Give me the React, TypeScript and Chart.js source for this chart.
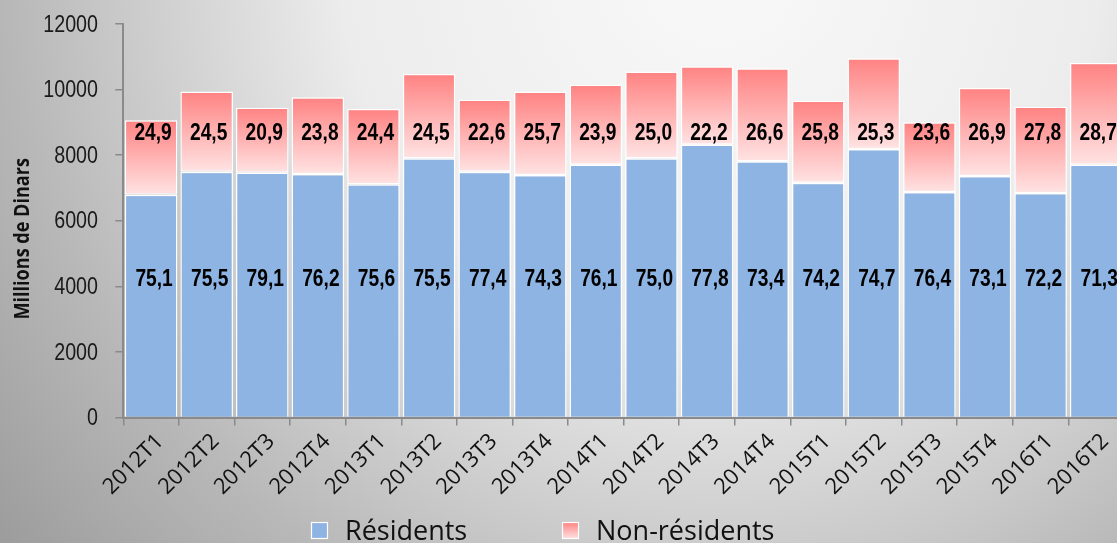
import React, { useEffect, useRef } from "react";
import { Chart, registerables } from "chart.js";

Chart.register(...registerables);

const categories = [
  "2012T1", "2012T2", "2012T3", "2012T4",
  "2013T1", "2013T2", "2013T3", "2013T4",
  "2014T1", "2014T2", "2014T3", "2014T4",
  "2015T1", "2015T2", "2015T3", "2015T4",
  "2016T1", "2016T2",
];

// Millions de Dinars
const residents = [
  6793, 7495, 7465, 7425,
  7108, 7902, 7495, 7394,
  7709, 7902, 8320, 7811,
  7159, 8187, 6874, 7363,
  6844, 7709,
];

const nonResidents = [
  2268, 2443, 1984, 2339,
  2301, 2576, 2198, 2544,
  2442, 2646, 2391, 2839,
  2504, 2768, 2127, 2687,
  2636, 3104,
];

const residentsPct = [
  "75,1", "75,5", "79,1", "76,2",
  "75,6", "75,5", "77,4", "74,3",
  "76,1", "75,0", "77,8", "73,4",
  "74,2", "74,7", "76,4", "73,1",
  "72,2", "71,3",
];

const nonResidentsPct = [
  "24,9", "24,5", "20,9", "23,8",
  "24,4", "24,5", "22,6", "25,7",
  "23,9", "25,0", "22,2", "26,6",
  "25,8", "25,3", "23,6", "26,9",
  "27,8", "28,7",
];

const yMin = 0;
const yMax = 12000;
const yStep = 2000;

const seriesNames = ["Résidents", "Non-résidents"];
const yTitle = "Millions de Dinars";

const BLUE = "#8EB4E3";
const PINK_TOP = "#FF8282";
const PINK_BOTTOM = "#FFE3E3";
const AXIS = "#8a8a8a";
const LABEL_FONT = '"Liberation Sans", Arial, sans-serif';
const UI_FONT = '"Open Sans", "Noto Sans", sans-serif';

export default function App() {
  const ref = useRef<HTMLCanvasElement | null>(null);

  useEffect(() => {
    const canvas = ref.current;
    if (!canvas) return;

    const bgPlugin = {
      id: "bgGradient",
      beforeDraw(chart: any) {
        const { ctx, width, height } = chart;
        const g = ctx.createRadialGradient(720, -40, 0, 720, -40, 950);
        g.addColorStop(0, "#f9f9f9");
        g.addColorStop(0.4, "#ececec");
        g.addColorStop(0.75, "#b8b8b8");
        g.addColorStop(1, "#999999");
        ctx.save();
        ctx.fillStyle = g;
        ctx.fillRect(0, 0, width, height);
        ctx.restore();
      },
    };

    const drawNarrow = (ctx: any, text: string, x: number, y: number, sx: number) => {
      ctx.save();
      ctx.translate(x, y);
      ctx.scale(sx, 1);
      ctx.fillText(text, 0, 0);
      ctx.restore();
    };

    const labelPlugin = {
      id: "pctLabels",
      afterDatasetsDraw(chart: any) {
        const { ctx } = chart;
        const y = chart.scales.y;
        const m0 = chart.getDatasetMeta(0);
        const m1 = chart.getDatasetMeta(1);
        ctx.save();
        ctx.font = `bold 24px ${LABEL_FONT}`;
        ctx.textAlign = "center";
        ctx.textBaseline = "middle";
        ctx.fillStyle = "#000";
        m0.data.forEach((el: any, i: number) => {
          drawNarrow(ctx, residentsPct[i], el.x + 3, y.getPixelForValue(4200), 0.8);
        });
        m1.data.forEach((el: any, i: number) => {
          drawNarrow(ctx, nonResidentsPct[i], el.x + 2, y.getPixelForValue(8650), 0.8);
        });
        ctx.restore();
      },
    };

    const decorPlugin = {
      id: "decor",
      afterDraw(chart: any) {
        const { ctx, chartArea } = chart;
        const yScale = chart.scales.y;

        // y tick labels (narrow face)
        ctx.save();
        ctx.font = `24px ${LABEL_FONT}`;
        ctx.fillStyle = "#1a1a1a";
        ctx.textAlign = "right";
        ctx.textBaseline = "middle";
        yScale.ticks.forEach((t: any) => {
          drawNarrow(ctx, String(t.value), 98, yScale.getPixelForValue(t.value) + 1, 0.82);
        });
        ctx.restore();

        // y-axis title
        ctx.save();
        ctx.translate(23, (chartArea.top + chartArea.bottom) / 2 + 18);
        ctx.rotate(-Math.PI / 2);
        ctx.scale(0.86, 1);
        ctx.font = `bold 21px ${UI_FONT}`;
        ctx.fillStyle = "#111";
        ctx.textAlign = "center";
        ctx.textBaseline = "middle";
        ctx.fillText(yTitle, 0, 0);
        ctx.restore();

        // legend
        ctx.save();
        const boxY = 522;
        const boxS = 17;
        const items = [
          { x: 311, tx: 345 },
          { x: 562, tx: 596 },
        ];
        items.forEach((it, i) => {
          if (i === 0) {
            ctx.fillStyle = BLUE;
          } else {
            const g = ctx.createLinearGradient(0, boxY, 0, boxY + boxS);
            g.addColorStop(0, PINK_TOP);
            g.addColorStop(1, PINK_BOTTOM);
            ctx.fillStyle = g;
          }
          ctx.fillRect(it.x, boxY, boxS, boxS);
          ctx.strokeStyle = "#ffffff";
          ctx.lineWidth = 1.2;
          ctx.strokeRect(it.x + 0.5, boxY + 0.5, boxS - 1, boxS - 1);
          ctx.font = `27px ${UI_FONT}`;
          ctx.fillStyle = "#111";
          ctx.textAlign = "left";
          ctx.textBaseline = "middle";
          ctx.fillText(seriesNames[i], it.tx, boxY + boxS / 2 + 2);
        });
        ctx.restore();
      },
    };

    const pinkFill = (c: any) => {
      const chart = c.chart;
      const y = chart.scales && chart.scales.y;
      if (!y || c.dataIndex === undefined) return PINK_TOP;
      const i = c.dataIndex;
      const top = y.getPixelForValue(residents[i] + nonResidents[i]);
      const bottom = y.getPixelForValue(residents[i]);
      if (!isFinite(top) || !isFinite(bottom) || top === bottom) return PINK_TOP;
      const g = chart.ctx.createLinearGradient(0, top, 0, bottom);
      g.addColorStop(0, PINK_TOP);
      g.addColorStop(1, PINK_BOTTOM);
      return g;
    };

    const chart = new Chart(canvas, {
      type: "bar",
      data: {
        labels: categories,
        datasets: [
          {
            label: seriesNames[0],
            data: residents,
            backgroundColor: BLUE,
            borderColor: "#ffffff",
            borderWidth: 1.4,
            borderSkipped: "start",
            barPercentage: 0.945,
            categoryPercentage: 1,
          },
          {
            label: seriesNames[1],
            data: nonResidents,
            backgroundColor: pinkFill,
            borderColor: "#ffffff",
            borderWidth: 1.4,
            borderSkipped: false,
            barPercentage: 0.945,
            categoryPercentage: 1,
          },
        ],
      },
      options: {
        responsive: false,
        animation: false,
        layout: { padding: { top: 24, left: 0, right: 0, bottom: 0 } },
        plugins: {
          legend: { display: false },
          tooltip: { enabled: false },
        },
        scales: {
          x: {
            stacked: true,
            grid: {
              offset: true,
              drawOnChartArea: false,
              drawTicks: true,
              tickLength: 8,
              color: AXIS,
              lineWidth: 1.5,
            },
            border: { color: AXIS, width: 2 },
            ticks: {
              autoSkip: false,
              minRotation: 45,
              maxRotation: 45,
              padding: 3,
              labelOffset: 9,
              color: "#111",
              font: { family: UI_FONT, size: 22 },
            },
            afterFit: (s: any) => {
              s.height = 125.5;
            },
          },
          y: {
            stacked: true,
            min: yMin,
            max: yMax,
            ticks: {
              stepSize: yStep,
              display: false,
            },
            grid: {
              drawOnChartArea: false,
              drawTicks: true,
              tickLength: 8,
              color: AXIS,
              lineWidth: 1.5,
            },
            border: { color: AXIS, width: 2 },
            afterFit: (s: any) => {
              s.width = 123.3;
            },
          },
        },
      },
      plugins: [bgPlugin, labelPlugin, decorPlugin],
    } as any);

    return () => chart.destroy();
  }, []);

  return (
    <div
      style={{
        position: "fixed",
        left: 0,
        top: 0,
        width: 1117,
        height: 543,
        overflow: "hidden",
      }}
    >
      <canvas
        ref={ref}
        width={1124}
        height={543}
        style={{ display: "block", width: "1124px", height: "543px" }}
      />
    </div>
  );
}
